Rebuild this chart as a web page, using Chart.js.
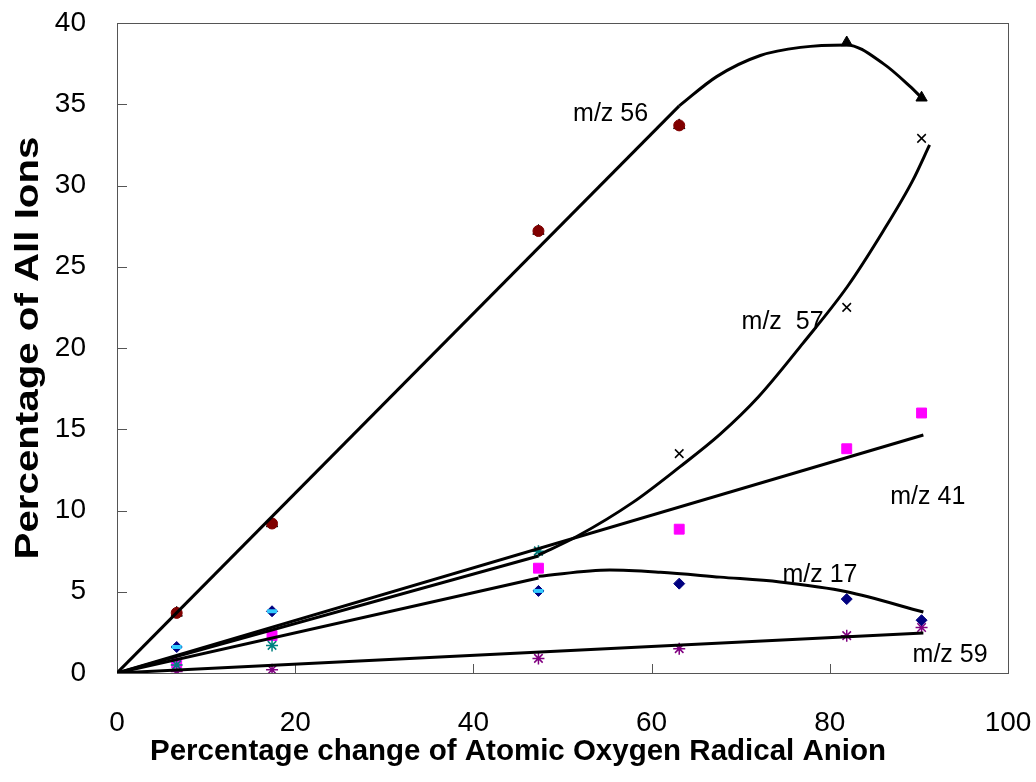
<!DOCTYPE html>
<html>
<head>
<meta charset="utf-8">
<script src="https://cdn.jsdelivr.net/npm/chart.js@4.4.0/dist/chart.umd.min.js"></script>
<style>
  html, body { margin: 0; padding: 0; background: #ffffff; }
</style>
</head>
<body>
<canvas id="chart" width="1036" height="782"></canvas>
<script>
// measured points (x = % change of O-, y = % of all ions)
const xVals = [6.7, 17.4, 47.3, 63.1, 81.9, 90.3];
const mz56Circle = [3.7, 9.2, 27.2, 33.7];
const mz56Tri = [3.7, 9.2, 27.2, 33.7, 38.8, 35.4];
const mz57Cross = [null, null, 7.5, 13.5, 22.5, 32.9];
const mz57Star = [0.5, 1.7, 7.5];
const mz41 = [0.6, 2.3, 6.45, 8.85, 13.8, 16.0];
const mz17 = [1.6, 3.8, 5.05, 5.5, 4.55, 3.25];
const mz17Dash = [1.6, 3.8, 5.05];
const mz59 = [0.1, 0.2, 0.9, 1.5, 2.3, 2.8];

// trend lines
const fit56X = [0, 63.1];
const fit56Y = [0, 34.9];
const curve56X = [63.1, 67.3, 72.2, 76.7, 81.9, 86.0, 89.0, 90.3];
const curve56Y = [34.9, 36.7, 38.0, 38.5, 38.65, 37.5, 36.1, 35.4];
const fit57X = [0, 47.3];
const fit57Y = [0, 7.2];
const curve57X = [47.3, 51.6, 57.9, 63.2, 67.7, 72, 77, 82, 86, 89.3, 91.2];
const curve57Y = [7.26, 8.4, 10.5, 12.7, 14.7, 17, 20.3, 23.8, 27.2, 30.3, 32.5];
const fit41X = [0, 90.5];
const fit41Y = [0, 14.65];
const fit17X = [0, 47.3];
const fit17Y = [0, 5.85];
const curve17X = [47.3, 55.3, 61, 67.7, 74.4, 81.9, 90.5];
const curve17Y = [5.95, 6.34, 6.2, 5.9, 5.6, 5.0, 3.75];
const fit59X = [0, 90.5];
const fit59Y = [0, 2.46];

// series labels
const labelTexts = ["m/z 56", "m/z  57", "m/z 41", "m/z 17", "m/z 59"];
const labelX = [55.4, 74.7, 91.0, 78.9, 93.5];
const labelY = [34.4, 21.6, 10.8, 6.0, 1.1];

const xTicks = [0, 20, 40, 60, 80, 100];
const yTicks = [0, 5, 10, 15, 20, 25, 30, 35, 40];

const xTitle = "Percentage change of Atomic Oxygen Radical Anion";
const yTitle = "Percentage of All Ions";

const FONT = "'Liberation Sans', Arial, sans-serif";

function pts(xs, ys) {
  let out = [];
  for (let i = 0; i < ys.length; i++) {
    if (ys[i] !== null) out.push({ x: xs[i], y: ys[i] });
  }
  return out;
}

function markers(ys, style, radius, fill, border, width, order) {
  return {
    data: pts(xVals, ys),
    showLine: false,
    pointStyle: style,
    pointRadius: radius,
    pointHoverRadius: radius,
    pointBackgroundColor: fill,
    pointBorderColor: border,
    pointBorderWidth: width,
    order: order,
  };
}

function trend(xs, ys, smooth) {
  return {
    data: pts(xs, ys),
    showLine: true,
    borderColor: "#000000",
    borderWidth: 3,
    pointRadius: 0,
    cubicInterpolationMode: smooth ? "monotone" : "default",
    tension: 0,
    order: 0,
  };
}

// frame, inward ticks, titles and series labels
const decorations = {
  id: "decorations",
  beforeDatasetsDraw(chart) {
    const ctx = chart.ctx;
    const a = chart.chartArea;
    const xs = chart.scales.x;
    const ys = chart.scales.y;
    ctx.save();
    ctx.strokeStyle = "#555555";
    ctx.lineWidth = 1;
    ctx.strokeRect(a.left + 0.5, a.top + 0.5, a.right - a.left, a.bottom - a.top);
    ctx.beginPath();
    yTicks.forEach((v) => {
      const p = Math.round(ys.getPixelForValue(v)) + 0.5;
      ctx.moveTo(a.left, p);
      ctx.lineTo(a.left + 10, p);
    });
    xTicks.forEach((v) => {
      const p = Math.round(xs.getPixelForValue(v)) + 0.5;
      ctx.moveTo(p, a.bottom);
      ctx.lineTo(p, a.bottom - 9);
    });
    ctx.stroke();

    // axis titles
    ctx.fillStyle = "#000000";
    ctx.textAlign = "center";
    ctx.textBaseline = "middle";
    ctx.font = "bold 29.5px " + FONT;
    ctx.fillText(xTitle, 518, 752);
    ctx.save();
    ctx.translate(29, (a.top + a.bottom) / 2);
    ctx.rotate(-Math.PI / 2);
    ctx.scale(1.22, 1);
    ctx.font = "bold 33px " + FONT;
    ctx.fillText(yTitle, 0, 0);
    ctx.restore();
    ctx.restore();
  },
  afterDatasetsDraw(chart) {
    const ctx = chart.ctx;
    ctx.save();
    ctx.fillStyle = "#000000";
    ctx.font = "25px " + FONT;
    ctx.textAlign = "center";
    ctx.textBaseline = "middle";
    labelTexts.forEach((t, i) => {
      ctx.fillText(t, chart.scales.x.getPixelForValue(labelX[i]), chart.scales.y.getPixelForValue(labelY[i]));
    });
    ctx.restore();
  },
};

const ctx = document.getElementById("chart").getContext("2d");
const myChart = new Chart(ctx, {
  type: "scatter",
  data: {
    datasets: [
      trend(fit56X, fit56Y, false),
      trend(curve56X, curve56Y, true),
      trend(fit57X, fit57Y, false),
      trend(curve57X, curve57Y, true),
      trend(fit41X, fit41Y, false),
      trend(fit17X, fit17Y, false),
      trend(curve17X, curve17Y, true),
      trend(fit59X, fit59Y, false),
      markers(mz56Circle, "circle", 5.5, "#800000", "#800000", 1, 1),
      markers(mz56Tri, "triangle", 6.5, "#000000", "#000000", 1, 2),
      markers(mz57Star, "star", 6, "#008080", "#008080", 1.5, 1),
      markers(mz57Cross, "crossRot", 6, "#000000", "#000000", 1.5, 2),
      markers(mz41, "rect", 7, "#FF00FF", "#FF00FF", 1, 2),
      markers(mz17Dash, "line", 5, "#33CCFF", "#33CCFF", 4, 1),
      markers(mz17, "rectRot", 5.5, "#000080", "#000080", 1, 2),
      markers(mz59, "star", 6, "#800080", "#800080", 1.5, 2),
    ],
  },
  options: {
    responsive: false,
    animation: false,
    layout: { padding: { top: 23, right: 28, left: 0, bottom: 0 } },
    plugins: {
      legend: { display: false },
      tooltip: { enabled: false },
    },
    scales: {
      x: {
        type: "linear",
        min: 0,
        max: 100,
        afterFit: (scale) => {
          scale.height = 109;
          scale.paddingLeft = 0;
          scale.paddingRight = 0;
        },
        afterBuildTicks: (scale) => { scale.ticks = xTicks.map((v) => ({ value: v })); },
        grid: { display: false },
        border: { display: false },
        ticks: { autoSkip: false, maxRotation: 0, padding: 25, color: "#000000", font: { family: FONT, size: 28 } },
      },
      y: {
        type: "linear",
        min: 0,
        max: 40,
        afterFit: (scale) => {
          scale.width = 117;
          scale.paddingTop = 0;
          scale.paddingBottom = 0;
        },
        afterBuildTicks: (scale) => { scale.ticks = yTicks.map((v) => ({ value: v })); },
        grid: { display: false },
        border: { display: false },
        ticks: { autoSkip: false, padding: 23, color: "#000000", font: { family: FONT, size: 28 } },
      },
    },
  },
  plugins: [decorations],
});
</script>
</body>
</html>
